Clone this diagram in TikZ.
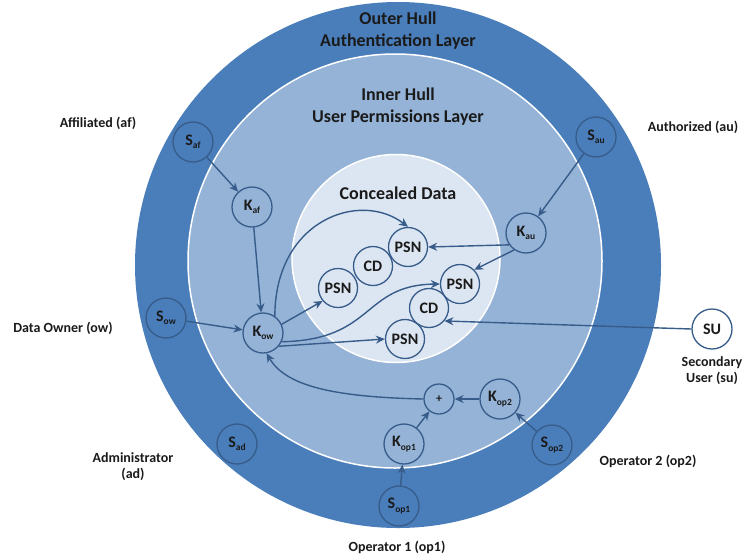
\documentclass[tikz,border=0pt]{standalone}
\usepackage{fontspec}
\setmainfont{Carlito}
\usetikzlibrary{arrows.meta}
\definecolor{outerblue}{HTML}{4A7EBB}
\definecolor{innerblue}{HTML}{95B3D7}
\definecolor{paleblue}{HTML}{DCE6F2}
\definecolor{edgeblue}{HTML}{375C8A}
\definecolor{txt}{HTML}{1A1A1A}
\newcommand{\subx}[1]{\raisebox{-3.5pt}{\fontsize{9.5}{10}\selectfont #1}}
\begin{document}
\begin{tikzpicture}[x=1pt,y=-1pt,
  every node/.style={font=\bfseries, text=txt},
  nd/.style={circle, draw=edgeblue, line width=1.3pt, minimum size=40pt, inner sep=0pt, font=\bfseries\fontsize{16}{17}\selectfont},
  smallnd/.style={nd, minimum size=30pt, font=\bfseries\fontsize{12}{13}\selectfont},
  lab/.style={font=\bfseries\fontsize{14}{16}\selectfont, align=center},
  ttl/.style={font=\bfseries\fontsize{18}{22}\selectfont, align=center},
  arr/.style={draw=edgeblue, line width=1.4pt, -{Stealth[length=9pt,width=8pt]}},
]
\useasboundingbox (0,0) rectangle (754,555);
% hulls
\fill[outerblue] (398,265) circle (263pt);
\filldraw[fill=innerblue, draw=white, line width=1.5pt] (395,261) circle (207pt);
\filldraw[fill=paleblue, draw=white, line width=1.5pt] (396,258.5) circle (104pt);
% titles
\node[ttl] (outert) at (398,31) {Outer Hull\\Authentication Layer};
\node[ttl] (innert) at (398,107) {Inner Hull\\User Permissions Layer};
\node[ttl] (conct) at (398,193) {Concealed Data};
% side labels
\node[lab] (laf) at (98,123) {Affiliated (af)};
\node[lab] (lau) at (693,127) {Authorized (au)};
\node[lab] (low) at (63,328) {Data Owner (ow)};
\node[lab] (lsu) at (712,371) {Secondary\\User (su)};
\node[lab] (lad) at (133,467) {Administrator\\(ad)};
\node[lab] (lop2) at (648,461) {Operator 2 (op2)};
\node[lab] (lop1) at (397,547) {Operator 1 (op1)};
% nodes
\node[nd] (Saf) at (193,142) {S\subx{af}};
\node[nd] (Kaf) at (252,207) {K\subx{af}};
\node[nd] (Sow) at (166,318) {S\subx{ow}};
\node[nd] (Kow) at (263,333) {K\subx{ow}};
\node[nd] (Sau) at (596,137) {S\subx{au}};
\node[nd] (Kau) at (526,233) {K\subx{au}};
\node[nd, fill=white] (SU) at (712,329) {SU};
\node[nd, minimum size=39pt] (PSNa) at (408,247) {PSN};
\node[nd, minimum size=39pt] (CDa) at (373,266) {CD};
\node[nd, minimum size=39pt] (PSNb) at (338,288) {PSN};
\node[nd, minimum size=39pt] (PSNc) at (460,284) {PSN};
\node[nd, minimum size=39pt] (CDb) at (429,308) {CD};
\node[nd, minimum size=39pt] (PSNd) at (405,339) {PSN};
\node[nd] (Sad) at (237,444) {S\subx{ad}};
\node[smallnd] (plus) at (439,399) {+};
\node[nd] (Kop2) at (500,399) {K\subx{op2}};
\node[nd] (Kop1) at (404,444) {K\subx{op1}};
\node[nd] (Sop2) at (552,445) {S\subx{op2}};
\node[nd] (Sop1) at (399,506) {S\subx{op1}};
% connectors
\draw[arr] (Saf) -- (Kaf);
\draw[arr] (Kaf) -- (Kow);
\draw[arr] (Sow) -- (Kow);
\draw[arr] (Sau) -- (Kau);
\draw[arr] (Kau.215) -- (PSNa.east);
\draw[arr] (Kau.235) -- (PSNc.45);
\draw[arr] (SU.west) -- (CDb.-40);
\draw[arr] (Kow.55) .. controls (275,220) and (360,190) .. (PSNa.north);
\draw[arr] (Kow.25) -- (PSNb.220);
\draw[arr] (Kow.-25) .. controls (375,340) and (362,285) .. (PSNc.west);
\draw[arr] (Kow.-40) -- (PSNd.west);
\draw[arr] (plus.west) .. controls (330,397) and (285,385) .. (Kow.-80);
\draw[arr] (Kop2) -- (plus);
\draw[arr] (Kop1) -- (plus);
\draw[arr] (Sop1) -- (Kop1);
\draw[arr] (Sop2) -- (Kop2);
\end{tikzpicture}
\end{document}
